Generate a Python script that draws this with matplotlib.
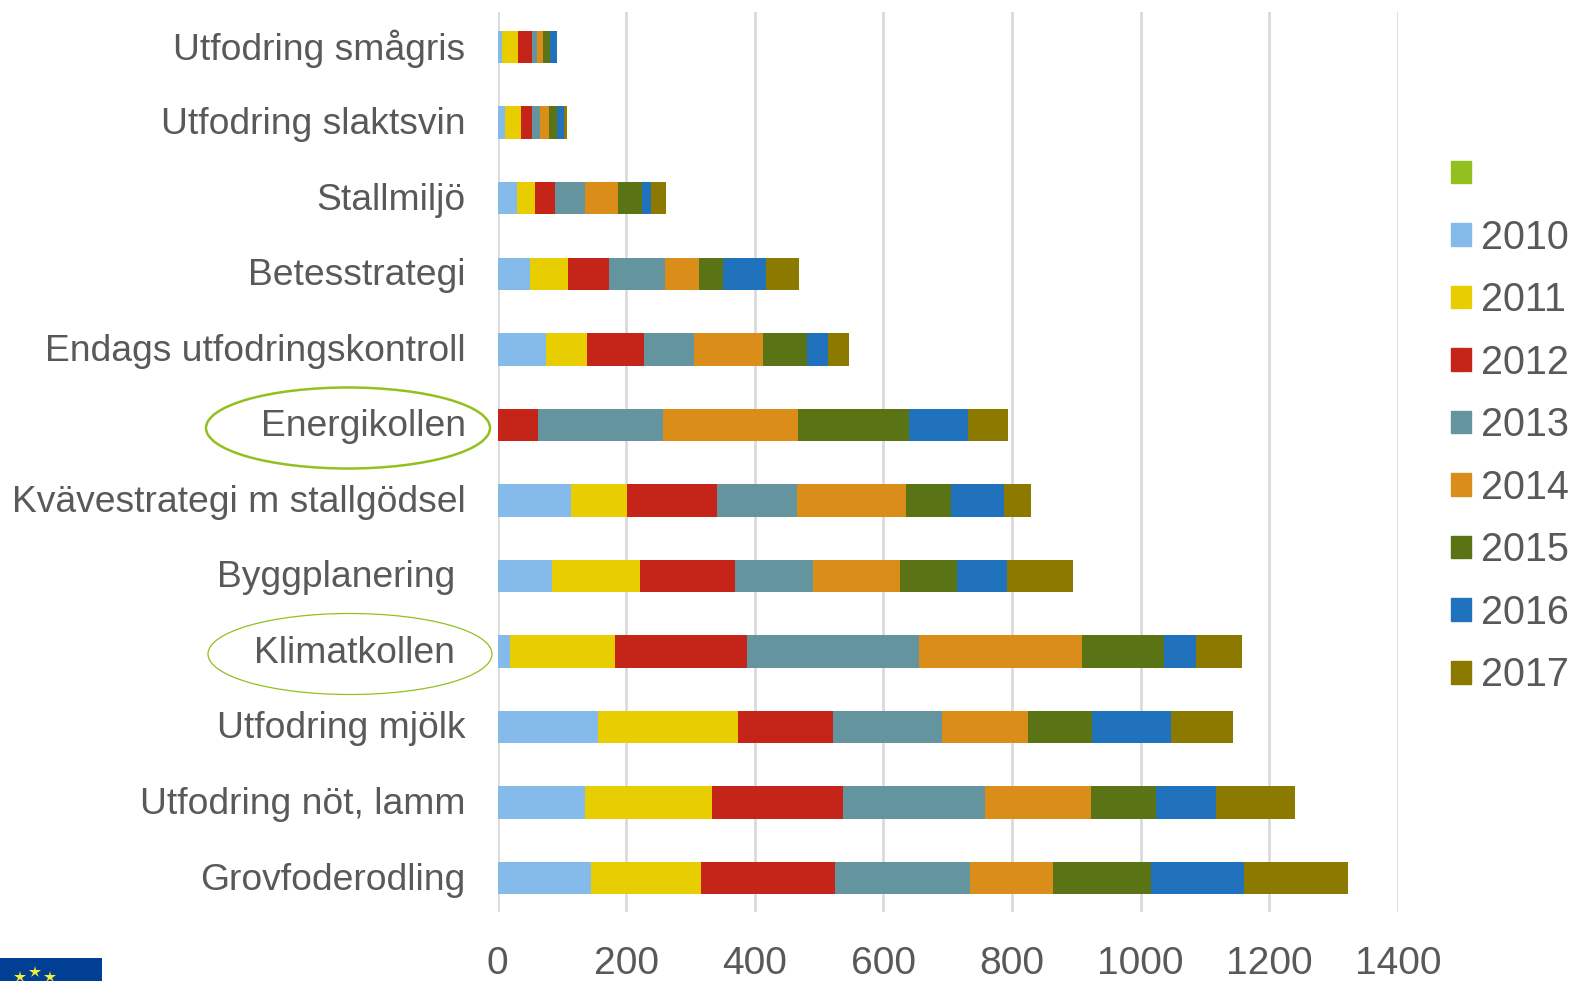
import matplotlib
matplotlib.use("Agg")
import matplotlib.pyplot as plt
from matplotlib.patches import Ellipse, Rectangle, Patch
from matplotlib.lines import Line2D
from matplotlib.transforms import ScaledTranslation

plt.rcParams['font.family'] = ['Liberation Sans', 'DejaVu Sans']

categories = ["Grovfoderodling", "Utfodring nöt, lamm", "Utfodring mjölk", "Klimatkollen ",
              "Byggplanering ", "Kvävestrategi m stallgödsel", "Energikollen",
              "Endags utfodringskontroll", "Betesstrategi", "Stallmiljö",
              "Utfodring slaktsvin", "Utfodring smågris"]
years = ["2010", "2011", "2012", "2013", "2014", "2015", "2016", "2017"]
v2010 = [145, 136, 157, 20, 84, 114, 0, 75, 51, 30, 12, 7]
v2011 = [172, 198, 217, 163, 138, 88, 0, 64, 58, 28, 24, 25]
v2012 = [207, 203, 147, 205, 148, 139, 63, 89, 64, 32, 18, 22]
v2013 = [211, 221, 170, 268, 120, 125, 195, 78, 88, 46, 12, 8]
v2014 = [128, 165, 133, 252, 136, 169, 209, 106, 52, 52, 14, 8]
v2015 = [153, 100, 100, 128, 88, 70, 173, 69, 38, 36, 12, 12]
v2016 = [145, 94, 123, 50, 78, 83, 92, 33, 67, 15, 12, 10]
v2017 = [161, 123, 97, 72, 102, 41, 62, 33, 50, 23, 4, 0]
series = [v2010, v2011, v2012, v2013, v2014, v2015, v2016, v2017]
colors = ["#85BBEB", "#E8CE00", "#C52518", "#64959F", "#DB8D1A", "#5A7314", "#2172BC", "#8C7A00"]
blank_color = "#92C01F"
text_color = "#595959"
fs = 26.85
fs_tick = 28
fs_leg = 28.5

W, H = 1574, 981
fig = plt.figure(figsize=(W / 100, H / 100), dpi=100, facecolor="white")

def fx(p): return p / W
def fy(p): return 1 - p / H

left, right, top, bottom = 497.5, 1398, 12, 912
ax = fig.add_axes([fx(left), fy(bottom), fx(right - left), (bottom - top) / H])
ypos = list(range(len(categories)))
base = [0] * len(categories)
for vals, col, yr in zip(series, colors, years):
    ax.barh(ypos, vals, left=base, height=0.43, color=col, label=yr, zorder=3)
    base = [b + v for b, v in zip(base, vals)]

ax.set_xlim(0, 1400)
ax.set_ylim(-0.45, 11.466)
ax.set_xticks(range(0, 1401, 200))
ax.set_yticks(ypos)
ax.set_yticklabels(categories, va="center_baseline")
ax.grid(axis="x", color="#D9D9D9", lw=1.9, zorder=0)
ax.set_axisbelow(True)
for s in ax.spines.values():
    s.set_visible(False)
ax.tick_params(axis="y", length=0, labelsize=fs, labelcolor=text_color, pad=23)
ax.tick_params(axis="x", length=0, labelsize=fs_tick, labelcolor=text_color, pad=24.5)
lift = ScaledTranslation(0, 2 / 100, fig.dpi_scale_trans)
for lab in ax.get_yticklabels():
    lab.set_transform(lab.get_transform() + lift)

# Legend (first entry is the blank series)
handles = [Patch(color=blank_color)] + [Patch(color=c) for c in colors]
labels = [""] + years
fig.legend(handles, labels, loc="upper left", bbox_to_anchor=(fx(1451), fy(156)),
           frameon=False, fontsize=fs_leg, labelcolor=text_color, labelspacing=0.62,
           handlelength=0.5, handleheight=0.5, handletextpad=0.25, borderpad=0, borderaxespad=0)

# Highlight ellipses
fig.add_artist(Ellipse((fx(348), fy(428)), 284 / W, 81 / H, fill=False,
                       edgecolor="#92C01F", lw=1.8, transform=fig.transFigure))
fig.add_artist(Ellipse((fx(350), fy(654)), 284 / W, 81 / H, fill=False,
                       edgecolor="#92C01F", lw=0.9, transform=fig.transFigure))

# EU flag corner
fig.add_artist(Rectangle((0, 0), 102 / W, 23 / H, facecolor="#003F94", edgecolor="none",
                         transform=fig.transFigure))
for sx, sy in [(20, 977), (35, 972), (50, 977)]:
    fig.add_artist(Line2D([fx(sx)], [fy(sy)], marker="*", ms=9, color="#F2EE3A", mew=0,
                          linestyle="none", transform=fig.transFigure))

fig.savefig("out.png", dpi=100)
